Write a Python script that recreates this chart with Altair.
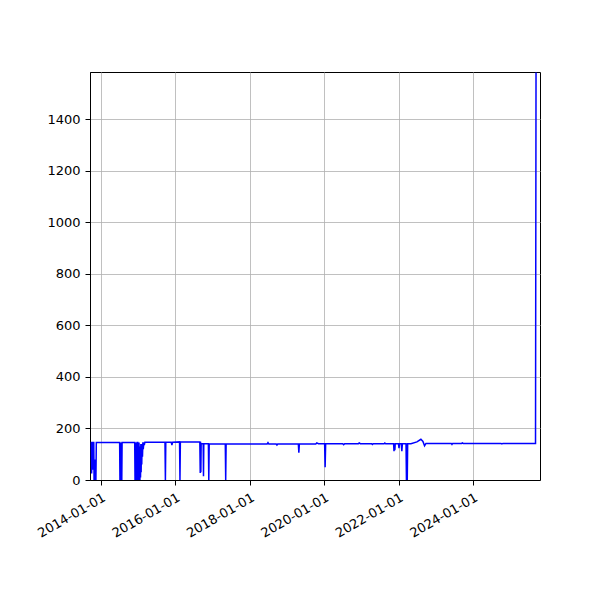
import altair as alt
import pandas as pd

dates = [
    # 2013 start cluster
    "2013-09-22", "2013-09-28", "2013-10-01", "2013-10-04", "2013-10-10", "2013-10-13",
    "2013-10-16", "2013-10-22", "2013-10-25", "2013-10-28", "2013-10-31", "2013-11-03",
    "2013-11-06", "2013-11-09", "2013-11-12", "2013-11-16",
    # mid 2014
    "2014-07-03", "2014-07-06", "2014-07-09", "2014-07-12", "2014-07-15", "2014-07-18",
    "2014-07-21", "2014-07-24", "2014-07-27",
    # winter 2014/15
    "2014-11-28", "2014-12-01", "2014-12-04", "2014-12-07", "2014-12-10", "2014-12-13",
    "2014-12-16", "2014-12-19", "2014-12-22", "2014-12-28", "2014-12-31", "2015-01-03",
    "2015-01-06", "2015-01-09", "2015-01-12", "2015-01-15", "2015-01-18", "2015-01-21",
    "2015-01-24", "2015-01-27", "2015-01-30", "2015-02-02", "2015-02-05", "2015-02-08",
    "2015-02-12", "2015-02-16", "2015-02-20", "2015-02-25", "2015-03-02", "2015-03-08",
    # 2015 - 2017
    "2015-09-21", "2015-09-25", "2015-09-29",
    "2015-11-21", "2015-11-28", "2015-12-05",
    "2016-02-11", "2016-02-15", "2016-02-19",
    "2016-08-28", "2016-09-01", "2016-09-04", "2016-09-07", "2016-09-10",
    "2016-09-30", "2016-10-03", "2016-10-06",
    "2016-11-20", "2016-11-24", "2016-11-28",
    "2017-05-05", "2017-05-09", "2017-05-13",
    # 2018 - 2020
    "2018-06-20", "2018-06-28", "2018-07-06", "2018-09-16", "2018-09-24", "2018-10-02",
    "2019-04-22", "2019-04-27", "2019-05-02", "2019-10-10", "2019-10-20", "2019-11-05",
    "2020-01-05", "2020-01-10", "2020-01-15",
    "2020-07-01", "2020-07-10", "2020-07-20", "2020-12-01", "2020-12-10", "2020-12-20",
    "2021-04-10", "2021-04-18", "2021-04-26", "2021-08-10", "2021-08-18", "2021-08-26",
    # 2021 - 2022 cluster
    "2021-11-12", "2021-11-16", "2021-11-20", "2021-11-24", "2021-11-28",
    "2021-12-30", "2022-01-04", "2022-01-09",
    "2022-01-26", "2022-02-01", "2022-02-06",
    "2022-03-14", "2022-03-18", "2022-03-22", "2022-03-26", "2022-03-30",
    "2022-05-01", "2022-06-29", "2022-08-07", "2022-08-27", "2022-09-12", "2022-09-26",
    # 2023 - 2025
    "2023-06-01", "2023-06-08", "2023-06-15", "2023-09-10", "2023-09-18", "2023-09-26",
    "2024-10-01", "2024-10-10", "2024-10-20",
    "2025-09-05", "2025-09-10",
]
values = [
    146, 146, 25, 146, 146, 40,
    146, 146, 0, 60, 0, 80,
    0, 40, 0, 146,
    146, 0, 146, 0, 146, 0,
    146, 0, 146,
    146, 0, 146, 0, 146, 0,
    146, 0, 146, 146, 0, 146,
    0, 146, 0, 130, 0, 120,
    10, 140, 30, 140, 60, 140,
    90, 146, 120, 146, 135, 147,
    147, 0, 147,
    147, 136, 147,
    148, 0, 148,
    148, 27, 148, 30, 141,
    141, 15, 141,
    141, 0, 141,
    140, 0, 140,
    140, 145, 140, 140, 136, 140,
    140, 106, 140, 140, 144, 141,
    141, 50, 141,
    141, 137, 141, 141, 144, 141,
    141, 138, 141, 141, 144, 141,
    141, 112, 141, 116, 141,
    141, 124, 141,
    141, 112, 141,
    141, 0, 141, 0, 141,
    141, 148, 158, 150, 133, 142,
    142, 138, 142, 142, 144, 142,
    142, 140, 142,
    142, 1582,
]

tick_years = [2014, 2016, 2018, 2020, 2022, 2024]
y_ticks = [0, 200, 400, 600, 800, 1000, 1200, 1400]

df = pd.DataFrame({"date": dates, "value": values})

chart = alt.Chart(df).mark_line(color="#0000ff", strokeWidth=1.5, clip=True).encode(
    x=alt.X(
        "date:T",
        scale=alt.Scale(
            type="utc",
            domain=[alt.DateTime(year=2013, month=9, date=15, utc=True),
                    alt.DateTime(year=2025, month=10, date=19, utc=True)],
        ),
        axis=alt.Axis(
            values=[alt.DateTime(year=y, month=1, date=1, utc=True) for y in tick_years],
            labelExpr="utcFormat(datum.value, '%Y-%m-%d')",
            labelAngle=330,
            labelAlign="right",
            labelBaseline="top",
            labelPadding=6,
            title=None,
        ),
    ),
    y=alt.Y(
        "value:Q",
        scale=alt.Scale(domain=[0, 1584], nice=False, zero=True),
        axis=alt.Axis(values=y_ticks, format="d", title=None, labelPadding=5),
    ),
).properties(
    width=450,
    height=408,
    autosize=alt.AutoSizeParams(type="none"),
    padding={"left": 82, "top": 64, "right": 50, "bottom": 110},
).configure_view(
    stroke="black", strokeWidth=1
).configure_axis(
    domainColor="black",
    domainWidth=1,
    tickColor="black",
    tickSize=5,
    tickWidth=1,
    labelColor="black",
    labelFont="DejaVu Sans",
    labelFontSize=13,
    grid=True,
    gridColor="#b0b0b0",
    gridWidth=0.8,
)

chart.save("out.html", embed_options={"renderer": "svg", "actions": False})
